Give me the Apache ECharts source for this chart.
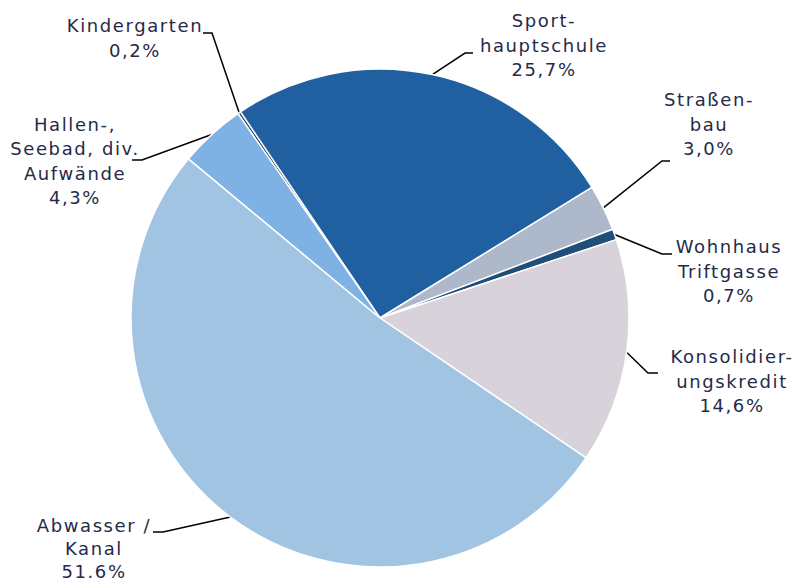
<!DOCTYPE html>
<html>
<head>
<meta charset="utf-8">
<script src="https://cdn.jsdelivr.net/npm/echarts@6/dist/echarts.min.js"></script>
<style>
  html, body { margin: 0; padding: 0; background: #fff; }
  #chart { width: 795px; height: 583px; }
  /* Excel-artige Laufweite der Beschriftungen */
  #chart text { letter-spacing: 1.6px; }
</style>
</head>
<body>
<div id="chart"></div>
<script>
  // Anteile in Prozent, im Uhrzeigersinn ab Kindergarten
  const names = [
    'Kindergarten',
    'Sport-\nhauptschule',
    'Straßen-\nbau',
    'Wohnhaus\nTriftgasse',
    'Konsolidier-\nungskredit',
    'Abwasser /\nKanal',
    'Hallen-,\nSeebad, div.\nAufwände'
  ]
  const values = [0.2, 25.7, 3.0, 0.7, 14.6, 51.6, 4.3]
  const valueLabels = ['0,2%', '25,7%', '3,0%', '0,7%', '14,6%', '51.6%', '4,3%']
  const colors = ['#1f3864', '#2060a0', '#adb9ca', '#1f4e79', '#d8d3da', '#a1c4e2', '#7eb1e4']

  // Mittelpunkt der Beschriftungen
  const labelPos = [
    [135, 38], [544, 45], [709, 124], [729, 271], [732, 381], [94, 548], [75, 161]
  ]
  // Knick und Ende der Führungslinien
  const lineBend = [
    [[212, 33], [203, 33]],
    [[465, 53], [473, 53]],
    [[662, 161], [670, 161]],
    [[662, 254], [672, 254]],
    [[648, 373], [658, 373]],
    [[163, 532], [153, 532]],
    [[142, 160], [132, 160]]
  ]

  const myChart = echarts.init(document.getElementById('chart'), null, { renderer: 'svg' })
  const option = {
    animation: false,
    series: [{
      type: 'pie',
      center: [380, 318],
      radius: 249,
      startAngle: 124.8,
      clockwise: true,
      data: values.map((v, i) => ({
        name: names[i],
        value: v,
        itemStyle: { color: colors[i] },
        // unterste Beschriftung etwas enger, damit sie ins Bild passt
        label: i === 5 ? { lineHeight: 23 } : undefined
      })),
      itemStyle: {
        borderColor: '#fff',
        borderWidth: 1.5
      },
      label: {
        show: true,
        formatter: p => p.name + '\n' + valueLabels[p.dataIndex],
        color: '#262a48',
        fontFamily: 'DejaVu Sans',
        fontSize: 18,
        lineHeight: 24.5,
        align: 'center'
      },
      labelLine: {
        show: true,
        length: 20,
        length2: 10,
        lineStyle: { color: '#000', width: 1.5 }
      },
      labelLayout: params => {
        const i = params.dataIndex
        const res = {
          x: labelPos[i][0],
          y: labelPos[i][1],
          align: 'center',
          verticalAlign: 'middle'
        }
        if (params.labelLinePoints) {
          res.labelLinePoints = [params.labelLinePoints[0], lineBend[i][0], lineBend[i][1]]
        }
        return res
      }
    }]
  }
  myChart.setOption(option)
</script>
</body>
</html>
